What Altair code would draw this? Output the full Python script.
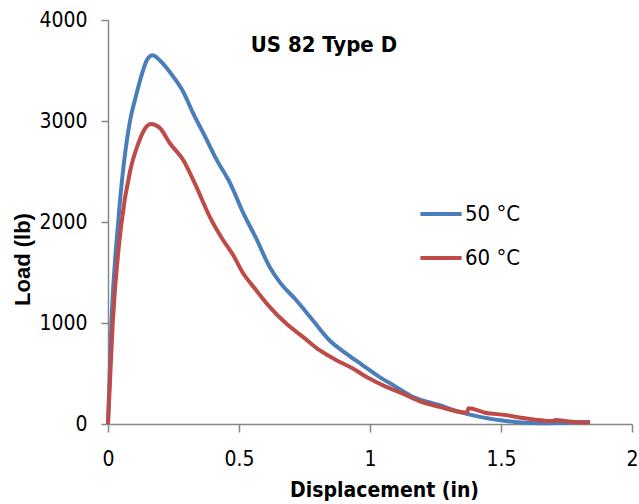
import altair as alt
import pandas as pd

# 50 °C series (blue)
blue_x = [0, 0.013, 0.039, 0.084, 0.103, 0.13, 0.15, 0.17, 0.198, 0.249, 0.287,
          0.326, 0.364, 0.415, 0.466, 0.516, 0.567, 0.616, 0.654, 0.717, 0.781,
          0.844, 0.908, 0.971, 1.034, 1.098, 1.161, 1.224, 1.262, 1.338, 1.414,
          1.49, 1.566, 1.65, 1.75, 1.84]
blue_y = [0, 1000, 2000, 3000, 3210, 3470, 3610, 3650, 3600, 3440, 3290,
          3070, 2880, 2615, 2385, 2090, 1830, 1560, 1410, 1230, 1030,
          832, 700, 584, 469, 370, 271, 215, 188, 122, 73,
          40, 17, 8, 12, 20]

# 60 °C series (red)
red_x = [0, 0.018, 0.052, 0.084, 0.116, 0.14, 0.165, 0.198, 0.236, 0.287,
         0.337, 0.388, 0.439, 0.476, 0.514, 0.565, 0.616, 0.679, 0.743, 0.806,
         0.87, 0.933, 0.996, 1.06, 1.123, 1.186, 1.262, 1.37, 1.376, 1.44,
         1.516, 1.592, 1.668, 1.70, 1.706, 1.77, 1.84]
red_y = [0, 1000, 2000, 2500, 2780, 2920, 2970, 2930, 2780, 2614,
         2350, 2053, 1822, 1680, 1500, 1327, 1162, 997, 865, 733,
         634, 551, 452, 370, 304, 230, 172, 112, 155, 112,
         89, 56, 33, 30, 40, 23, 15]

series_names = ["50 °C", "60 °C"]
series_colors = ["#4a7ebb", "#be4b48"]
x_ticks = [0, 0.5, 1, 1.5, 2]
y_ticks = [0, 1000, 2000, 3000, 4000]
chart_title = "US 82 Type D"

df = pd.concat([
    pd.DataFrame({"disp": blue_x, "load": blue_y, "temp": series_names[0]}),
    pd.DataFrame({"disp": red_x, "load": red_y, "temp": series_names[1]}),
])

NARROW = "Liberation Sans Narrow, DejaVu Sans Condensed, Arial Narrow, sans-serif"

lines = alt.Chart(df).mark_line(strokeWidth=4, interpolate="monotone").encode(
    x=alt.X("disp:Q", title="Displacement (in)",
            scale=alt.Scale(domain=[0, 2], nice=False),
            axis=alt.Axis(values=x_ticks, labelExpr="'' + datum.value",
                          labelFlush=False, labelOverlap=False,
                          grid=False, tickSize=8, labelPadding=16,
                          titleX=276, titleY=66, titleBaseline="middle",
                          titleAlign="center")),
    y=alt.Y("load:Q", title="Load (lb)",
            scale=alt.Scale(domain=[0, 4000], nice=False),
            axis=alt.Axis(values=y_ticks, format="d", grid=False, tickSize=7,
                          labelPadding=14, titleX=-86, titleY=239,
                          titleAngle=270, titleBaseline="middle",
                          titleAlign="center",
                          titleFont="Liberation Sans, Arial, sans-serif",
                          titleFontSize=22)),
    color=alt.Color("temp:N",
                    scale=alt.Scale(domain=series_names, range=series_colors),
                    legend=alt.Legend(title=None, orient="none", legendX=310,
                                      legendY=171, symbolType="stroke",
                                      symbolStrokeWidth=4, symbolSize=1700,
                                      labelFontSize=22, labelFont=NARROW,
                                      labelOffset=1, rowPadding=10)),
    order=alt.Order("temp:N"),
)

title_df = pd.DataFrame({"disp": [0.824], "load": [3752], "label": [chart_title]})
title = alt.Chart(title_df).mark_text(
    font=NARROW, fontSize=22, fontWeight="bold", color="#000000",
    align="center", baseline="middle"
).encode(x="disp:Q", y="load:Q", text="label:N")

chart = alt.layer(lines, title).properties(
    width=524, height=404,
    autosize=alt.AutoSizeParams(type="none"),
    padding={"left": 108, "top": 20, "right": 7, "bottom": 80},
).configure_view(stroke=None).configure_axis(
    domainColor="#868686", tickColor="#868686", domainWidth=1.5, tickWidth=1.5,
    labelFont=NARROW, labelFontSize=21, labelColor="#000000",
    titleFont=NARROW, titleFontSize=21, titleFontWeight="bold",
    titleColor="#000000",
)

chart.save("out.html", embed_options={"renderer": "svg", "actions": False})
